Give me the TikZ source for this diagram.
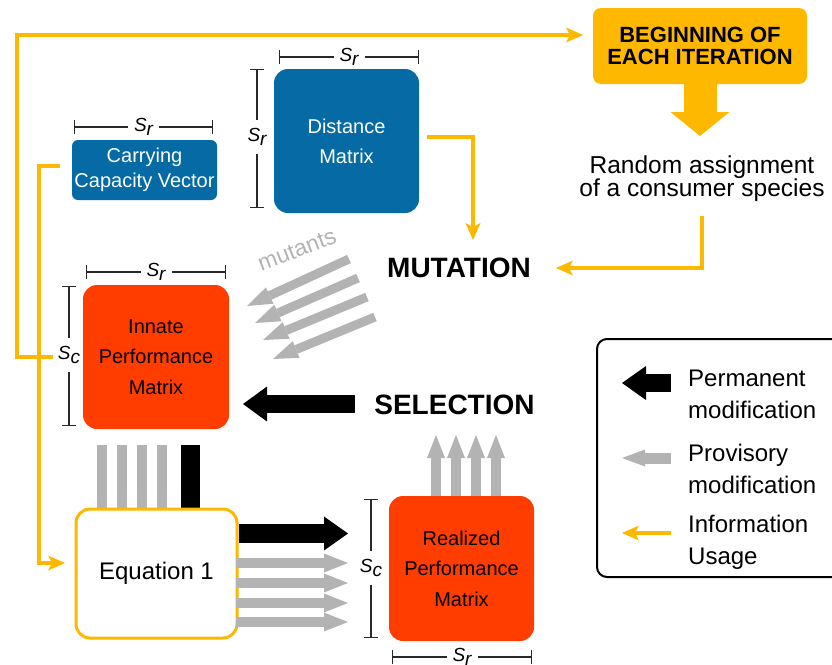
\documentclass[tikz,border=0pt]{standalone}
\usepackage{fontspec}
\setmainfont{Liberation Sans}
\usetikzlibrary{arrows.meta}
\definecolor{cblue}{RGB}{6,106,164}
\definecolor{cred}{RGB}{255,61,0}
\definecolor{cgold}{RGB}{255,184,0}
\definecolor{cgray}{RGB}{179,179,179}
\definecolor{cdim}{RGB}{40,40,40}
\newcommand{\Sr}{S\raisebox{-0.22em}{r}}
\newcommand{\Sc}{S\raisebox{-0.22em}{c}}
\begin{document}
\begin{tikzpicture}[x=1pt,y=-1pt,
  box/.style={rounded corners=14pt, inner sep=0pt, align=center, font=\fontsize{20}{30.5}\selectfont},
  bluebox/.style={box, fill=cblue, text=white},
  redbox/.style={box, fill=cred, text=black},
  dimline/.style={draw=cdim, line width=1.3pt, {Bar[width=14pt]}-{Bar[width=14pt]}},
  dimlabh/.style={fill=white, inner xsep=6pt, inner ysep=1pt, font=\fontsize{19}{19}\selectfont\itshape},
  dimlabv/.style={fill=white, inner xsep=1pt, inner ysep=8pt, font=\fontsize{19}{19}\selectfont\itshape},
  info/.style={draw=cgold, line width=4pt, -{Stealth[length=17pt,width=15pt,inset=4pt,line width=0pt]}},
  perm/.style={draw=black, line width=18pt, -{Triangle[length=24pt,width=35pt,line width=0pt]}},
  prov/.style={draw=cgray, line width=10pt, -{Triangle[length=24pt,width=19pt,line width=0pt]}},
  mutarrow/.style={draw=cgray, line width=9pt, -{Triangle[length=25pt,width=18pt,line width=0pt]}},
  bar/.style={line width=10pt, draw=cgray},
  legtext/.style={anchor=west, align=left, inner sep=0pt, font=\fontsize{24}{32}\selectfont}
]
\clip (0,0) rectangle (832,664);

% ---------- main nodes ----------
\node[bluebox, rounded corners=6pt, minimum width=145pt, minimum height=60pt,
      font=\fontsize{20}{25}\selectfont] (ccv) at (144.5,170) {Carrying\\Capacity Vector};
\node[bluebox, minimum width=145pt, minimum height=144pt,
      font=\fontsize{20}{30}\selectfont] (dm) at (346.5,141) {Distance\\Matrix};
\node[fill=cgold, rounded corners=8pt, minimum width=214pt, minimum height=76pt, inner sep=0pt,
      align=center, font=\fontsize{22}{22.5}\selectfont\bfseries] (begin) at (700,46) {BEGINNING OF\\EACH ITERATION};
\node[align=center, inner sep=0pt, font=\fontsize{24.5}{23.5}\selectfont] (random) at (702,178.5)
      {Random assignment\\of a consumer species};
\node[inner sep=0pt, font=\fontsize{28}{28}\selectfont\bfseries] (mutation) at (459,268) {MUTATION};
\node[inner sep=0pt, font=\fontsize{28}{28}\selectfont\bfseries] (selection) at (454.5,405) {SELECTION};
\node[redbox, minimum width=146pt, minimum height=144pt] (innate) at (156,357) {Innate\\Performance\\Matrix};
\node[redbox, minimum width=145pt, minimum height=145pt] (real) at (461.5,568.5) {Realized\\Performance\\Matrix};
\node[rotate=21, text=cgray, inner sep=0pt, font=\fontsize{23}{23}\selectfont] (mut) at (297,250) {mutants};

% ---------- bars from innate into equation ----------
\foreach \x [count=\i] in {102,122,142,162} {
  \coordinate (bt\i) at (\x,445);
  \draw[bar] (bt\i) -- (\x,510);
}
\coordinate (bk) at (190.5,445);
\draw[line width=19pt] (bk) -- (190.5,510);

\node[draw=cgold, line width=3pt, fill=white, rounded corners=14pt, minimum width=161pt,
      minimum height=129pt, inner sep=0pt, font=\fontsize{24}{24}\selectfont] (eq) at (156.5,573.5) {Equation 1};

% ---------- legend ----------
\node[draw, line width=2pt, rounded corners=10pt, minimum width=250pt, minimum height=238pt] (legend) at (722,458) {};
\node[legtext] (lperm) at (688,394) {Permanent\\modification};
\node[legtext] (lprov) at (688,469) {Provisory\\modification};
\node[legtext] (linfo) at (688,542) {Information\\Usage};
\coordinate (lp1) at (671,383); \coordinate (lp2) at (622,383);
\coordinate (lg1) at (671,458); \coordinate (lg2) at (622,458);
\coordinate (lo1) at (671,533); \coordinate (lo2) at (622,533);
\draw[perm, -{Triangle[length=24pt,width=34pt,line width=0pt]}] (lp1) -- (lp2);
\draw[prov, line width=11pt, -{Triangle[length=23pt,width=17pt,line width=0pt]}] (lg1) -- (lg2);
\draw[info] (lo1) -- (lo2);

% ---------- information (orange) lines ----------
\coordinate (loopA) at (53,357);
\coordinate (loopB) at (17,357);
\coordinate (loopC) at (17,35);
\coordinate (loopD) at (583,35);
\draw[info] (loopA) -- (loopB) -- (loopC) -- (loopD);

\coordinate (ccvA) at (60,166);
\coordinate (ccvB) at (39,166);
\coordinate (ccvC) at (39,563);
\coordinate (ccvD) at (65,563);
\draw[info] (ccvA) -- (ccvB) -- (ccvC) -- (ccvD);

\coordinate (dmA) at (427,137);
\coordinate (dmB) at (473,137);
\coordinate (dmC) at (473,240);
\draw[info] (dmA) -- (dmB) -- (dmC);

\coordinate (rnA) at (702,216);
\coordinate (rnB) at (702,268);
\coordinate (rnC) at (556,268);
\draw[info] (rnA) -- (rnB) -- (rnC);

% big down arrow
\coordinate (bigtip) at (700,136);
\draw[draw=cgold, line width=33pt, -{Triangle[length=24pt,width=59pt,line width=0pt]}] (begin.south) -- (bigtip);

% ---------- selection arrow ----------
\coordinate (selA) at (355,404);
\coordinate (selB) at (243,404);
\draw[perm] (selA) -- (selB);

% ---------- mutant arrows ----------
\draw[mutarrow] (349,259) -- (247,306);
\draw[mutarrow] (358,278) -- (255,323);
\draw[mutarrow] (367,297) -- (263,340);
\draw[mutarrow] (375,317) -- (273,359);

% ---------- equation -> realized ----------
\coordinate (eqB) at (348,533.5);
\draw[perm, line width=19pt, -{Triangle[length=24pt,width=34pt,line width=0pt]}] (eq.east |- eqB) -- (eqB);
\foreach \y in {563,583,603,622} {
  \draw[prov] (236,\y) -- (348,\y);
}

% ---------- realized -> selection (up arrows) ----------
\foreach \x in {436,456,476,496} {
  \draw[prov, -{Triangle[length=23pt,width=18pt,line width=0pt]}] (\x,496) -- (\x,435);
}

% ---------- dimension lines ----------
\draw[dimline] (74,127) -- (213,127);  \node[dimlabh] at (143.5,127) {\Sr};
\draw[dimline] (279,57) -- (419,57);   \node[dimlabh] at (349,57) {\Sr};
\draw[dimline] (257,69) -- (257,208);  \node[dimlabv] at (257,137) {\Sr};
\draw[dimline] (86,272) -- (226,272);  \node[dimlabh] at (156,272) {\Sr};
\draw[dimline] (69,286) -- (69,426);   \node[dimlabv] at (69,355) {\Sc};
\draw[dimline] (371,499) -- (371,638); \node[dimlabv] at (371,568) {\Sc};
\draw[dimline] (392,657) -- (532,657); \node[dimlabh] at (462,657) {\Sr};
\end{tikzpicture}
\end{document}
